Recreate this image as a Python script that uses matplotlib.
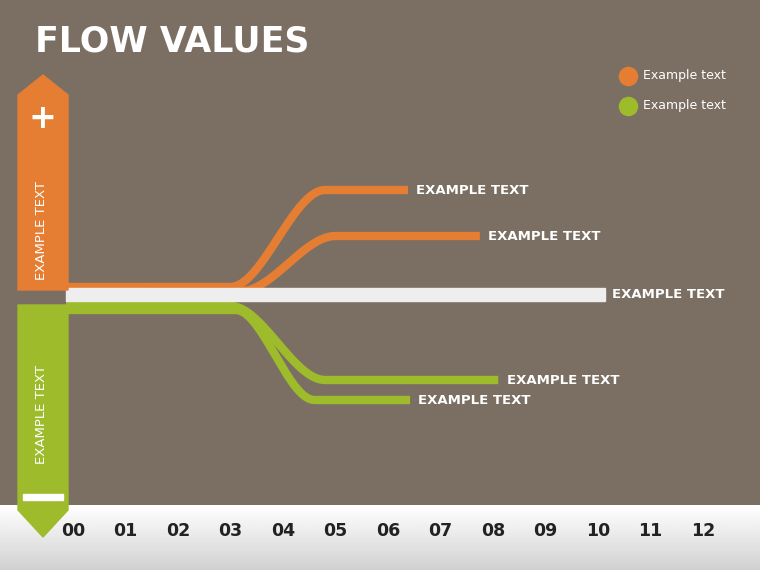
import numpy as np
import matplotlib.pyplot as plt
from matplotlib.patches import Polygon, Rectangle

# data
ticks = ["00", "01", "02", "03", "04", "05", "06", "07", "08", "09", "10", "11", "12"]
flow_labels = ["EXAMPLE TEXT", "EXAMPLE TEXT", "EXAMPLE TEXT", "EXAMPLE TEXT", "EXAMPLE TEXT"]
flow_kind = ["orange", "orange", "white", "green", "green"]
flow_end = [6.38, 7.75, 10.13, 8.1, 6.42]        # x where each flow stops
flow_level = [190, 236, 294, 380, 400]           # vertical position at the end (px from top)
flow_start = [287, 291, 294, 306, 310]           # vertical position at the start
bend_from = [3.0, 3.2, 0, 3.0, 3.1]
bend_to = [4.8, 5.0, 0, 4.8, 4.6]
legend_labels = ["Example text", "Example text"]

BG = "#7b6f63"
ORANGE = "#e57d33"
GREEN = "#9dbb2a"
colors = {"orange": ORANGE, "green": GREEN, "white": "#eeeeee"}

fig = plt.figure(figsize=(7.6, 5.7), dpi=100, facecolor=BG)
ax = fig.add_axes([0, 0, 1, 1])
ax.set_facecolor(BG)
x0, step = 73, 52.5
ax.set_xlim((0 - x0) / step, (760 - x0) / step)
ax.set_ylim(570, 0)
ax.axis("off")
px = lambda p: (p - x0) / step

# bottom band
grad = np.linspace(1, 0.82, 50).reshape(-1, 1)
ax.imshow(grad, cmap="gray", vmin=0, vmax=1, aspect="auto",
          extent=(px(0), px(760), 570, 505), zorder=1)

# flows
for i, kind in enumerate(flow_kind):
    c = colors[kind]
    if kind == "white":
        ax.add_patch(Rectangle((px(66), 288), flow_end[i] - px(66), 13, color=c, zorder=3))
        ax.text(flow_end[i] + 0.13, 294, flow_labels[i], color="white", fontsize=9.5,
                fontweight="bold", va="center", zorder=5)
        continue
    xs = np.linspace(px(66), flow_end[i], 300)
    t = np.clip((xs - bend_from[i]) / (bend_to[i] - bend_from[i]), 0, 1)
    s = t * t * (3 - 2 * t)
    ys = flow_start[i] + (flow_level[i] - flow_start[i]) * s
    ax.plot(xs, ys, color=c, lw=6, solid_capstyle="butt", zorder=2)
    ax.text(flow_end[i] + 0.16, flow_level[i], flow_labels[i], color="white", fontsize=9.5,
            fontweight="bold", va="center", zorder=5)

# left arrow
ax.add_patch(Polygon([(px(18), 290), (px(18), 95), (px(43), 75), (px(68), 95), (px(68), 290)],
                     closed=True, color=ORANGE, zorder=4))
ax.add_patch(Polygon([(px(18), 305), (px(18), 510), (px(43), 537), (px(68), 510), (px(68), 305)],
                     closed=True, color=GREEN, zorder=4))
ax.text(px(42), 230, "EXAMPLE TEXT", color="white", fontsize=9.5, rotation=90,
        ha="center", va="center", zorder=5)
ax.text(px(42), 415, "EXAMPLE TEXT", color="white", fontsize=9.5, rotation=90,
        ha="center", va="center", zorder=5)
ax.text(px(42), 118, "+", color="white", fontsize=24, fontweight="bold",
        ha="center", va="center", zorder=5)
ax.add_patch(Rectangle((px(23), 494), px(63) - px(23), 6, color="white", zorder=5))

# ticks
for i, lab in enumerate(ticks):
    ax.text(i, 531, lab, fontsize=12.5, fontweight="bold", color="#222222",
            ha="center", va="center", zorder=5)

# title
ax.text(px(35), 42, "FLOW VALUES", color="white", fontsize=25, fontweight="bold",
        va="center", zorder=5)

# legend
for j, (lab, c) in enumerate(zip(legend_labels, [ORANGE, GREEN])):
    y = 76 + 30 * j
    ax.scatter([px(628)], [y], s=170, color=c, zorder=5)
    ax.text(px(643), y, lab, color="white", fontsize=9, va="center", zorder=5)

fig.savefig("out.png", dpi=100, facecolor=BG)
